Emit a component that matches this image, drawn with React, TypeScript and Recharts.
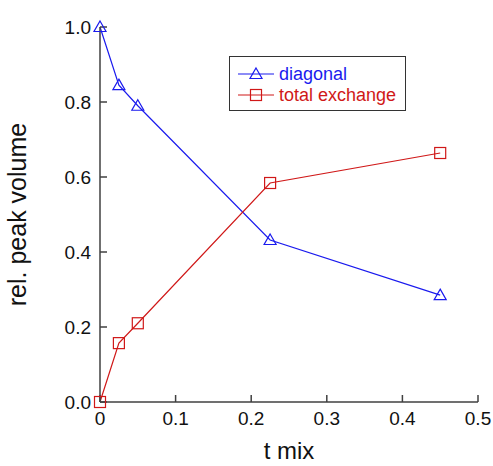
import { Label, Line, LineChart, XAxis, YAxis } from 'recharts'

const tMix = [0, 0.025, 0.05, 0.225, 0.45]
const diagonal = [1.0, 0.845, 0.79, 0.432, 0.285]
const totalExchange = [0, 0.157, 0.21, 0.584, 0.664]
const xTicks = [0, 0.1, 0.2, 0.3, 0.4, 0.5]
const yTicks = [0, 0.2, 0.4, 0.6, 0.8, 1.0]

const data = tMix.map((t, i) => ({ t, diagonal: diagonal[i], total: totalExchange[i] }))

const BLUE = '#1a1aee'
const RED = '#d01818'
const AXIS = '#404040'
const FONT = '"Liberation Sans", Arial, sans-serif'

const axisProps = {
  stroke: AXIS,
  strokeWidth: 1.5,
  tickSize: -7,
  tick: { fill: '#111', fontSize: 19, fontFamily: FONT },
} as const

function Triangle(props: any) {
  const { cx, cy, index } = props
  if (cx == null || cy == null) return null
  return (
    <path
      key={`tri-${index}`}
      d={`M${cx},${cy - 6} L${cx + 6},${cy + 4.5} L${cx - 6},${cy + 4.5} Z`}
      fill="none"
      stroke={BLUE}
      strokeWidth={1.2}
    />
  )
}

function Square(props: any) {
  const { cx, cy, index } = props
  if (cx == null || cy == null) return null
  return (
    <rect
      key={`sq-${index}`}
      x={cx - 5.5}
      y={cy - 5.5}
      width={11}
      height={11}
      fill="none"
      stroke={RED}
      strokeWidth={1.2}
    />
  )
}

function LegendBox() {
  const row = (top: number, color: string, label: string, marker: 'tri' | 'sq') => (
    <div style={{ position: 'absolute', left: 7, top, display: 'flex', alignItems: 'center', height: 20 }}>
      <svg width={38} height={20}>
        <line x1={1} y1={10} x2={37} y2={10} stroke={color} strokeWidth={1.2} />
        {marker === 'tri' ? (
          <path d="M19,4 L25,14.5 L13,14.5 Z" fill="none" stroke={color} strokeWidth={1.2} />
        ) : (
          <rect x={13.5} y={4.5} width={11} height={11} fill="none" stroke={color} strokeWidth={1.2} />
        )}
      </svg>
      <span style={{ color, fontSize: 18, fontFamily: FONT, marginLeft: 4, lineHeight: '20px' }}>{label}</span>
    </div>
  )
  return (
    <div
      style={{
        position: 'absolute',
        left: 229,
        top: 56,
        width: 175,
        height: 53,
        border: '1.5px solid #333',
        background: '#fff',
      }}
    >
      {row(7, BLUE, 'diagonal', 'tri')}
      {row(28, RED, 'total exchange', 'sq')}
    </div>
  )
}

export default function App() {
  return (
    <div style={{ position: 'absolute', left: 0, top: 0, width: 493, height: 466, background: '#fff' }}>
      <LineChart width={493} height={466} data={data} margin={{ top: 27, right: 15, left: 0, bottom: 0 }}>
        <XAxis
          dataKey="t"
          type="number"
          domain={[0, 0.5]}
          ticks={xTicks}
          tickFormatter={(v: number) => String(v)}
          height={64}
          tickMargin={17}
          {...axisProps}
        >
          <Label
            content={({ viewBox }: any) => (
              <text
                x={viewBox.x + viewBox.width / 2}
                y={459}
                textAnchor="middle"
                fontSize={24}
                fontFamily={FONT}
                fill="#111"
              >
                t mix
              </text>
            )}
          />
        </XAxis>
        <YAxis
          type="number"
          domain={[0, 1]}
          ticks={yTicks}
          tickFormatter={(v: number) => v.toFixed(1)}
          width={100}
          tickMargin={16}
          {...axisProps}
        >
          <Label
            content={({ viewBox }: any) => {
              const cy = viewBox.y + viewBox.height / 2
              return (
                <text
                  x={26}
                  y={cy}
                  transform={`rotate(-90, 26, ${cy})`}
                  textAnchor="middle"
                  fontSize={25}
                  fontFamily={FONT}
                  fill="#111"
                >
                  rel. peak volume
                </text>
              )
            }}
          />
        </YAxis>
        <Line
          dataKey="diagonal"
          stroke={BLUE}
          strokeWidth={1.2}
          dot={Triangle}
          activeDot={false}
          isAnimationActive={false}
        />
        <Line
          dataKey="total"
          stroke={RED}
          strokeWidth={1.2}
          dot={Square}
          activeDot={false}
          isAnimationActive={false}
        />
      </LineChart>
      <LegendBox />
    </div>
  )
}
